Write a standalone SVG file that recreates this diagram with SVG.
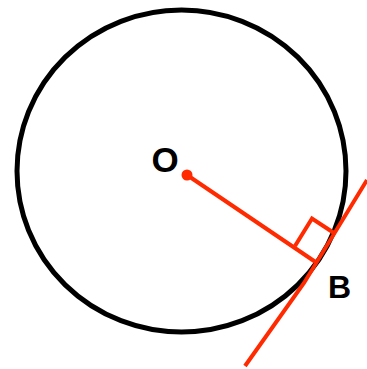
<svg xmlns="http://www.w3.org/2000/svg" width="367" height="369" viewBox="0 0 367 369">
<style>
.blk{fill:none;stroke:#000;stroke-width:5}
.red{fill:none;stroke:#ff2a00;stroke-width:4;stroke-linejoin:miter}
.lbl{font-family:"Liberation Sans",Arial,sans-serif;font-weight:bold;fill:#000}
</style>
<rect width="367" height="369" fill="#fff"/>
<g id="circle">
<ellipse class="blk" cx="181.5" cy="171" rx="164.5" ry="161"/>
</g>
<g id="connectors">
<line class="red" x1="187" y1="175" x2="317" y2="263"/>
<path class="red" d="M245,366 L304,283 L367,180"/>
<polyline class="red" points="295,246 312,218.5 334,233"/>
</g>
<g id="O">
<circle cx="187" cy="175" r="5.5" fill="#ff2a00"/>
<text class="lbl" x="151.5" y="172" font-size="35">O</text>
</g>
<g id="B">
<text class="lbl" x="328" y="298" font-size="32">B</text>
</g>
</svg>
